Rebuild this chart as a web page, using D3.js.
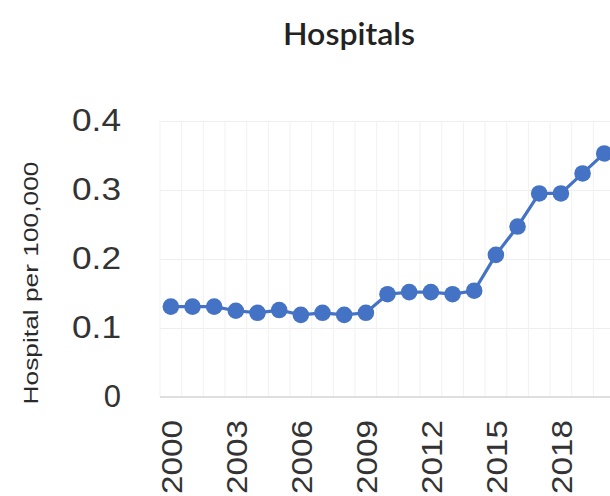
<!DOCTYPE html>
<html>
<head>
<meta charset="utf-8">
<script src="https://cdn.jsdelivr.net/npm/d3@7/dist/d3.min.js"></script>
<style>
  html, body { margin: 0; padding: 0; background: #fff; overflow: hidden; }
  svg { display: block; }
</style>
</head>
<body>
<svg id="chart" width="610" height="496"></svg>
<script>
const years = [2000,2001,2002,2003,2004,2005,2006,2007,2008,2009,2010,2011,2012,2013,2014,2015,2016,2017,2018,2019,2020];
const hospitalsPer100k = [0.131,0.131,0.131,0.125,0.122,0.126,0.119,0.122,0.119,0.122,0.149,0.152,0.152,0.149,0.154,0.206,0.247,0.295,0.295,0.324,0.353];
const yTicks = [0, 0.1, 0.2, 0.3, 0.4];
const xTickYears = [2000,2003,2006,2009,2012,2015,2018];
const chartTitle = "Hospitals";
const yLabel = "Hospital per 100,000";

(function() {
const svg = d3.select("#chart");
const plotLeft = 160, bandW = 21.67, plotTop = 121, plotBottom = 397;

const x = d3.scaleBand().domain(years).range([plotLeft, plotLeft + bandW * years.length]).padding(0);
const y = d3.scaleLinear().domain([0, 0.4]).range([plotBottom, plotTop]);

// horizontal gridlines
svg.append("g")
  .attr("transform", `translate(${plotLeft},0)`)
  .call(d3.axisLeft(y).tickValues(yTicks.filter(d => d > 0)).tickSize(-(bandW * years.length)).tickFormat(""))
  .call(g => g.select(".domain").remove())
  .call(g => g.selectAll("line").attr("stroke", "#eeeeee").attr("stroke-width", 1));

// vertical gridlines at category boundaries
const bounds = years.map(d => x(d)).concat([x(years[years.length-1]) + x.bandwidth()]);
svg.append("g").selectAll("line").data(bounds).join("line")
  .attr("x1", d => d).attr("x2", d => d)
  .attr("y1", plotTop).attr("y2", plotBottom)
  .attr("stroke", "#f1f1f1").attr("stroke-width", 1);

// baseline
svg.append("line")
  .attr("x1", plotLeft).attr("x2", 610)
  .attr("y1", y(0)).attr("y2", y(0))
  .attr("stroke", "#d4d4d4").attr("stroke-width", 1.5);

// y axis labels
const yAxis = svg.append("g")
  .attr("transform", `translate(121,0)`)
  .call(d3.axisLeft(y).tickValues(yTicks).tickSize(0).tickPadding(0).tickFormat(d => d === 0 ? "0" : d3.format(".1f")(d)));
yAxis.select(".domain").remove();
yAxis.selectAll("text")
  .attr("font-family", "Liberation Sans, Arial, sans-serif")
  .attr("font-size", 31)
  .attr("fill", "#333")
  .each(function(d) { if (d !== 0) d3.select(this).attr("textLength", 49).attr("lengthAdjust", "spacingAndGlyphs"); });

// x axis labels (rotated)
svg.append("g").selectAll("text").data(xTickYears).join("text")
  .attr("transform", d => `translate(${x(d) + x.bandwidth()/2 + 1},420) rotate(-90)`)
  .attr("text-anchor", "end")
  .attr("dominant-baseline", "central")
  .attr("font-family", "Liberation Sans, Arial, sans-serif")
  .attr("font-size", 30)
  .attr("fill", "#333")
  .attr("textLength", 74)
  .attr("lengthAdjust", "spacingAndGlyphs")
  .text(d => d);

// line
const line = d3.line()
  .x((d, i) => x(years[i]) + x.bandwidth()/2)
  .y(d => y(d));
svg.append("path")
  .datum(hospitalsPer100k)
  .attr("d", line)
  .attr("fill", "none")
  .attr("stroke", "#4472C4")
  .attr("stroke-width", 3.2);

svg.append("g").selectAll("circle").data(hospitalsPer100k).join("circle")
  .attr("cx", (d, i) => x(years[i]) + x.bandwidth()/2)
  .attr("cy", d => y(d))
  .attr("r", 8.3)
  .attr("fill", "#4472C4");

// title
svg.append("text")
  .attr("x", 349).attr("y", 45)
  .attr("text-anchor", "middle")
  .attr("font-family", "Lato, Open Sans, sans-serif")
  .attr("font-weight", 600)
  .attr("font-size", 30)
  .attr("fill", "#222")
  .attr("textLength", 132)
  .attr("lengthAdjust", "spacingAndGlyphs")
  .text(chartTitle);

// y label
svg.append("text")
  .attr("transform", `translate(38,283) rotate(-90)`)
  .attr("text-anchor", "middle")
  .attr("font-family", "Liberation Sans, Arial, sans-serif")
  .attr("font-size", 21)
  .attr("fill", "#2a2a2a")
  .attr("textLength", 243)
  .attr("lengthAdjust", "spacingAndGlyphs")
  .text(yLabel);
})();
</script>
</body>
</html>
